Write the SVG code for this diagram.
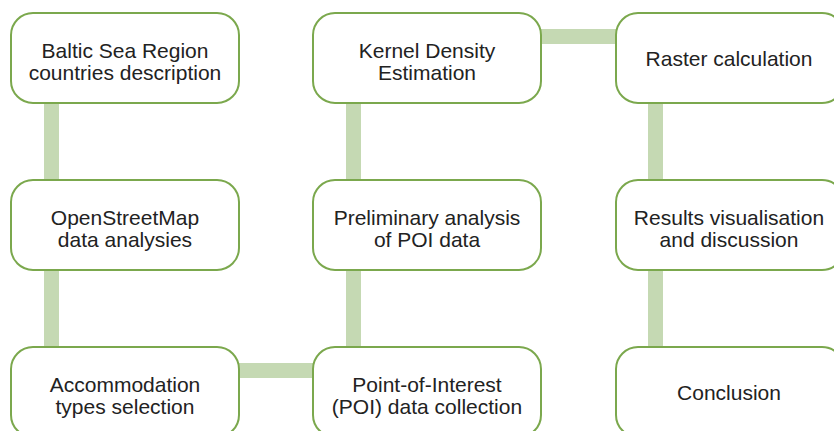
<svg xmlns="http://www.w3.org/2000/svg" width="834" height="431" viewBox="0 0 834 431">
<style>
.box{fill:#fff;stroke:#7ba84d;stroke-width:2}
.bar{fill:#c5d9b3}
.t{font-family:"Liberation Sans",Arial,sans-serif;font-size:21px;fill:#222;text-anchor:middle}
</style>
<rect width="834" height="431" fill="#fff"/>
<g id="connectors">
<rect class="bar" x="44" y="100" width="15" height="84"/>
<rect class="bar" x="44" y="267" width="15" height="84"/>
<rect class="bar" x="346" y="100" width="15" height="84"/>
<rect class="bar" x="346" y="267" width="15" height="84"/>
<rect class="bar" x="648" y="100" width="15" height="84"/>
<rect class="bar" x="648" y="267" width="15" height="84"/>
<rect class="bar" x="538" y="29" width="82" height="15"/>
<rect class="bar" x="236" y="363" width="82" height="15"/>
</g>
<g id="n1"><rect class="box" x="11" y="13" width="228" height="90" rx="22"/><text class="t" x="125" y="58">Baltic Sea Region</text><text class="t" x="125" y="80">countries description</text></g>
<g id="n2"><rect class="box" x="11" y="180" width="228" height="90" rx="22"/><text class="t" x="125" y="225">OpenStreetMap</text><text class="t" x="125" y="247">data analysies</text></g>
<g id="n3"><rect class="box" x="11" y="347" width="228" height="90" rx="22"/><text class="t" x="125" y="392">Accommodation</text><text class="t" x="125" y="414">types selection</text></g>
<g id="n4"><rect class="box" x="313" y="347" width="228" height="90" rx="22"/><text class="t" x="427" y="392">Point-of-Interest</text><text class="t" x="427" y="414">(POI) data collection</text></g>
<g id="n5"><rect class="box" x="313" y="180" width="228" height="90" rx="22"/><text class="t" x="427" y="225">Preliminary analysis</text><text class="t" x="427" y="247">of POI data</text></g>
<g id="n6"><rect class="box" x="313" y="13" width="228" height="90" rx="22"/><text class="t" x="427" y="58">Kernel Density</text><text class="t" x="427" y="80">Estimation</text></g>
<g id="n7"><rect class="box" x="616" y="13" width="228" height="90" rx="22"/><text class="t" x="729" y="66">Raster calculation</text></g>
<g id="n8"><rect class="box" x="616" y="180" width="228" height="90" rx="22"/><text class="t" x="729" y="225">Results visualisation</text><text class="t" x="729" y="247">and discussion</text></g>
<g id="n9"><rect class="box" x="616" y="347" width="228" height="90" rx="22"/><text class="t" x="729" y="400">Conclusion</text></g>
</svg>
